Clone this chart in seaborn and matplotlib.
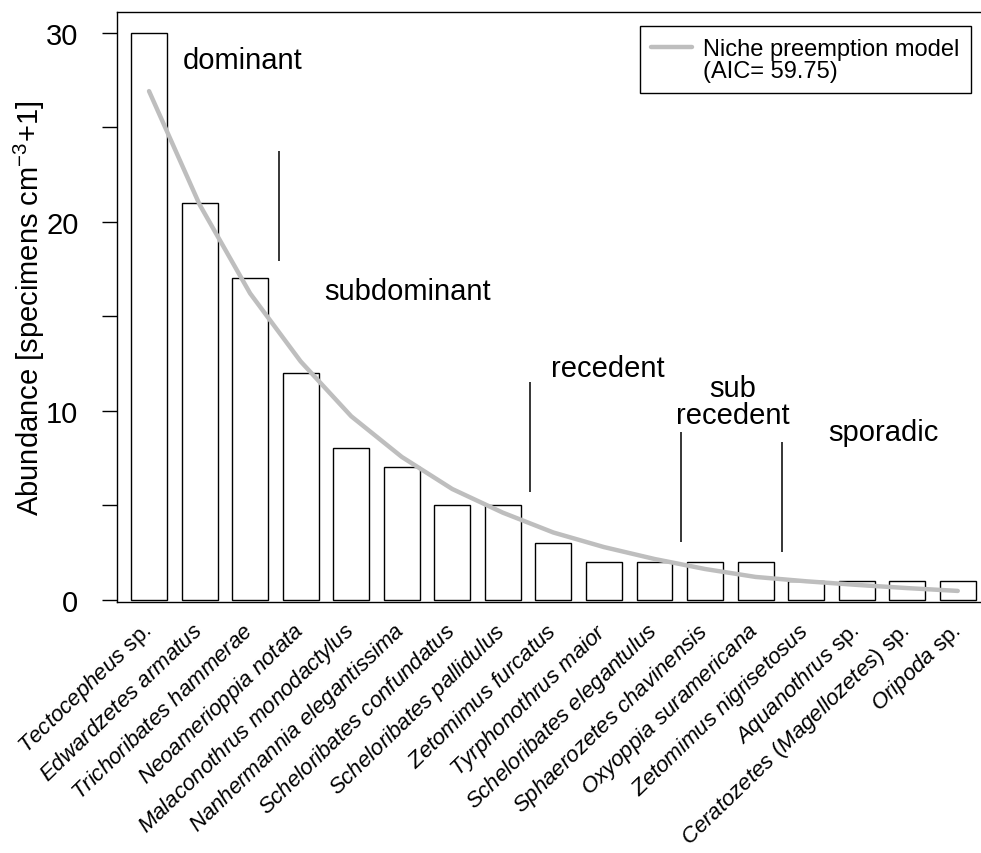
import numpy as np
import pandas as pd
import matplotlib
matplotlib.use("Agg")
import matplotlib.pyplot as plt
from matplotlib.lines import Line2D
import seaborn as sns

# valores
species = [
    "Tectocepheus sp.", "Edwardzetes armatus", "Trichoribates hammerae",
    "Neoamerioppia notata", "Malaconothrus monodactylus",
    "Nanhermannia elegantissima", "Scheloribates confundatus",
    "Scheloribates pallidulus", "Zetomimus furcatus", "Tyrphonothrus maior",
    "Scheloribates elegantulus", "Sphaerozetes chavinensis",
    "Oxyoppia suramericana", "Zetomimus nigrisetosus", "Aquanothrus sp.",
    "Ceratozetes (Magellozetes) sp.", "Oripoda sp.",
]
abundance = [30, 21, 17, 12, 8, 7, 5, 5, 3, 2, 2, 2, 2, 1, 1, 1, 1]
fitted = [26.9, 20.9, 16.2, 12.6, 9.7, 7.55, 5.85, 4.6, 3.55, 2.78, 2.15,
          1.62, 1.2, 0.97, 0.78, 0.61, 0.46]
model_label = "Niche preemption model"
aic_label = "(AIC= 59.75)"

classes = ["dominant", "subdominant", "recedent", "sub\nrecedent", "sporadic"]
y_ticks = [0, 5, 10, 15, 20, 25, 30]
y_ticklabels = ["0", "", "10", "", "20", "", "30"]


def italic_label(name):
    parts = []
    for w in name.split(" "):
        if w == "sp.":
            parts.append(w)
        else:
            parts.append(r"$\mathit{" + w + "}$")
    return " ".join(parts)


sns.set_theme(style="ticks")
plt.rcParams["font.family"] = ["Liberation Sans", "DejaVu Sans"]
plt.rcParams["mathtext.fontset"] = "custom"
plt.rcParams["mathtext.rm"] = "Liberation Sans"
plt.rcParams["mathtext.it"] = "Liberation Sans:italic"
plt.rcParams["mathtext.default"] = "regular"
plt.rcParams["text.color"] = "black"
plt.rcParams["axes.labelcolor"] = "black"
plt.rcParams["xtick.color"] = "black"
plt.rcParams["ytick.color"] = "black"

df = pd.DataFrame({"species": species, "abundance": abundance, "fitted": fitted})
df["pos"] = np.arange(len(df))

fig = plt.figure(figsize=(9.81, 8.54), dpi=100)
ax = fig.add_axes([0.1193, 0.2936, 0.8807, 0.6915])

sns.barplot(data=df, x="species", y="abundance", color="white",
            edgecolor="black", linewidth=1.0, width=0.71, saturation=1, ax=ax)
sns.lineplot(data=df, x="pos", y="fitted", color="#BEBEBE", linewidth=3.2,
             ax=ax, legend=False)

# linhas verticais separando as classes de dominancia
boundaries = [(2.58, 17.93, 23.71), (7.54, 5.71, 11.50),
              (10.53, 3.07, 8.85), (12.53, 2.50, 8.33)]
for bx, y0, y1 in boundaries:
    ax.vlines(bx, y0, y1, color="black", linewidth=1.1)

fs = 21
ax.text(1.85, 28.12, classes[0], ha="center", va="baseline", fontsize=fs)
ax.text(5.12, 15.9, classes[1], ha="center", va="baseline", fontsize=fs)
ax.text(9.07, 11.81, classes[2], ha="center", va="baseline", fontsize=fs)
ax.text(11.55, 9.34, classes[3], ha="center", va="baseline", fontsize=fs,
        multialignment="center", linespacing=0.98)
ax.text(14.52, 8.45, classes[4], ha="center", va="baseline", fontsize=fs)

ax.set_xlim(-0.633, 16.46)
ax.set_ylim(-0.14, 31.1)
ax.set_yticks(y_ticks)
ax.set_yticklabels(y_ticklabels, fontsize=fs)
ax.tick_params(axis="y", length=10.8, width=1.0, pad=17)
ax.set_xticks(df["pos"])
ax.set_xticklabels([italic_label(s) for s in species], rotation=44,
                   ha="right", va="center", rotation_mode="anchor", fontsize=16)
ax.tick_params(axis="x", length=0, pad=18)

ax.set_xlabel("")
ax.set_ylabel(r"Abundance [specimens cm$^{-3}$+1]", fontsize=fs)
ax.yaxis.set_label_coords(-0.081, 0.5)

for side in ["left", "top", "bottom"]:
    ax.spines[side].set_linewidth(1.0)
    ax.spines[side].set_color("black")
ax.spines["right"].set_visible(False)

handles = [Line2D([], [], color="#BEBEBE", linewidth=3.2),
           Line2D([], [], color="none")]
leg = ax.legend(handles, [model_label, aic_label], loc="upper right",
                bbox_to_anchor=(0.988, 0.975), fontsize=17, frameon=True,
                fancybox=False, edgecolor="black", framealpha=1,
                borderaxespad=0, handlelength=1.75, handletextpad=0.45,
                labelspacing=0.0, borderpad=0.48)
leg.get_frame().set_linewidth(1.0)

fig.savefig("out.png", dpi=100)
